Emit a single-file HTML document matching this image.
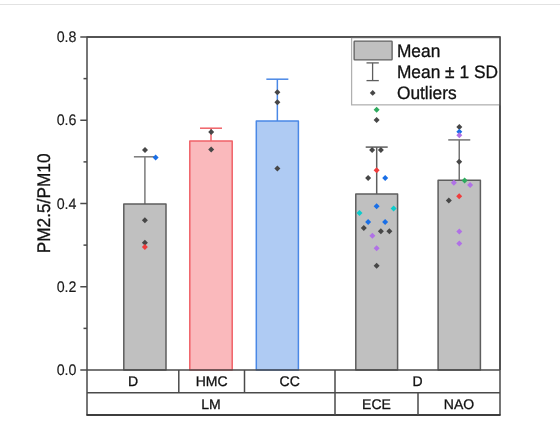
<!DOCTYPE html>
<html><head><meta charset="utf-8"><style>
html,body{margin:0;padding:0;background:#fff;width:560px;height:422px;overflow:hidden}
svg{display:block;font-family:"Liberation Sans", sans-serif;will-change:transform}
</style></head><body>
<svg width="560" height="422" viewBox="0 0 560 422" text-rendering="geometricPrecision">
<rect x="0" y="4" width="560" height="1" fill="#e2e2e2"/>
<line x1="144.90" y1="204.00" x2="144.90" y2="156.80" stroke="#7a7a7a" stroke-width="1.5"/>
<line x1="133.90" y1="156.80" x2="155.90" y2="156.80" stroke="#7a7a7a" stroke-width="1.5"/>
<rect x="123.80" y="204.00" width="42.20" height="166.00" fill="#c0c0c0" stroke="#5e5e5e" stroke-width="1.5" stroke-linejoin="round"/>
<line x1="211.00" y1="141.00" x2="211.00" y2="128.20" stroke="#f06268" stroke-width="1.5"/>
<line x1="200.00" y1="128.20" x2="222.00" y2="128.20" stroke="#f06268" stroke-width="1.5"/>
<rect x="189.80" y="141.00" width="42.40" height="229.00" fill="#fab9bc" stroke="#f06268" stroke-width="1.5" stroke-linejoin="round"/>
<line x1="277.35" y1="121.00" x2="277.35" y2="79.20" stroke="#4a88e6" stroke-width="1.5"/>
<line x1="266.35" y1="79.20" x2="288.35" y2="79.20" stroke="#4a88e6" stroke-width="1.5"/>
<rect x="256.30" y="121.00" width="42.10" height="249.00" fill="#afcbf3" stroke="#4a88e6" stroke-width="1.5" stroke-linejoin="round"/>
<line x1="376.70" y1="194.00" x2="376.70" y2="147.10" stroke="#5e5e5e" stroke-width="1.5"/>
<line x1="365.70" y1="147.10" x2="387.70" y2="147.10" stroke="#5e5e5e" stroke-width="1.5"/>
<rect x="355.80" y="194.00" width="41.80" height="176.00" fill="#c0c0c0" stroke="#5e5e5e" stroke-width="1.5" stroke-linejoin="round"/>
<line x1="459.25" y1="180.20" x2="459.25" y2="139.90" stroke="#747474" stroke-width="1.5"/>
<line x1="448.25" y1="139.90" x2="470.25" y2="139.90" stroke="#747474" stroke-width="1.5"/>
<rect x="438.10" y="180.20" width="42.30" height="189.80" fill="#c0c0c0" stroke="#5e5e5e" stroke-width="1.5" stroke-linejoin="round"/>
<path d="M145.00 147.00L148.00 150.00L145.00 153.00L142.00 150.00Z" fill="#474747"/>
<path d="M155.60 154.40L158.60 157.40L155.60 160.40L152.60 157.40Z" fill="#1a6fe6"/>
<path d="M144.90 217.20L147.90 220.20L144.90 223.20L141.90 220.20Z" fill="#474747"/>
<path d="M144.90 239.70L147.90 242.70L144.90 245.70L141.90 242.70Z" fill="#474747"/>
<path d="M144.90 244.00L147.90 247.00L144.90 250.00L141.90 247.00Z" fill="#f03c3c"/>
<path d="M211.20 129.10L214.20 132.10L211.20 135.10L208.20 132.10Z" fill="#474747"/>
<path d="M211.20 146.60L214.20 149.60L211.20 152.60L208.20 149.60Z" fill="#474747"/>
<path d="M277.40 89.30L280.40 92.30L277.40 95.30L274.40 92.30Z" fill="#474747"/>
<path d="M277.40 99.20L280.40 102.20L277.40 105.20L274.40 102.20Z" fill="#474747"/>
<path d="M277.40 165.40L280.40 168.40L277.40 171.40L274.40 168.40Z" fill="#474747"/>
<path d="M376.60 106.80L379.60 109.80L376.60 112.80L373.60 109.80Z" fill="#2eaa5e"/>
<path d="M376.60 116.90L379.60 119.90L376.60 122.90L373.60 119.90Z" fill="#474747"/>
<path d="M372.10 147.00L375.10 150.00L372.10 153.00L369.10 150.00Z" fill="#474747"/>
<path d="M380.90 147.00L383.90 150.00L380.90 153.00L377.90 150.00Z" fill="#474747"/>
<path d="M376.60 167.20L379.60 170.20L376.60 173.20L373.60 170.20Z" fill="#f03c3c"/>
<path d="M368.10 175.10L371.10 178.10L368.10 181.10L365.10 178.10Z" fill="#474747"/>
<path d="M385.20 175.10L388.20 178.10L385.20 181.10L382.20 178.10Z" fill="#1a6fe6"/>
<path d="M376.60 203.20L379.60 206.20L376.60 209.20L373.60 206.20Z" fill="#1a6fe6"/>
<path d="M393.60 205.50L396.60 208.50L393.60 211.50L390.60 208.50Z" fill="#0ccbcb"/>
<path d="M359.50 210.10L362.50 213.10L359.50 216.10L356.50 213.10Z" fill="#0ccbcb"/>
<path d="M368.10 218.90L371.10 221.90L368.10 224.90L365.10 221.90Z" fill="#1a6fe6"/>
<path d="M385.10 218.90L388.10 221.90L385.10 224.90L382.10 221.90Z" fill="#1a6fe6"/>
<path d="M363.80 224.90L366.80 227.90L363.80 230.90L360.80 227.90Z" fill="#474747"/>
<path d="M380.90 228.20L383.90 231.20L380.90 234.20L377.90 231.20Z" fill="#474747"/>
<path d="M389.40 228.20L392.40 231.20L389.40 234.20L386.40 231.20Z" fill="#474747"/>
<path d="M372.40 232.80L375.40 235.80L372.40 238.80L369.40 235.80Z" fill="#b071e6"/>
<path d="M376.60 245.30L379.60 248.30L376.60 251.30L373.60 248.30Z" fill="#b071e6"/>
<path d="M376.60 262.80L379.60 265.80L376.60 268.80L373.60 265.80Z" fill="#474747"/>
<path d="M459.30 124.10L462.30 127.10L459.30 130.10L456.30 127.10Z" fill="#474747"/>
<path d="M459.30 128.70L462.30 131.70L459.30 134.70L456.30 131.70Z" fill="#1a6fe6"/>
<path d="M459.30 132.30L462.30 135.30L459.30 138.30L456.30 135.30Z" fill="#b071e6"/>
<path d="M459.20 158.70L462.20 161.70L459.20 164.70L456.20 161.70Z" fill="#474747"/>
<path d="M464.60 177.60L467.60 180.60L464.60 183.60L461.60 180.60Z" fill="#2eaa5e"/>
<path d="M453.90 179.70L456.90 182.70L453.90 185.70L450.90 182.70Z" fill="#b071e6"/>
<path d="M470.10 181.90L473.10 184.90L470.10 187.90L467.10 184.90Z" fill="#b071e6"/>
<path d="M459.20 193.20L462.20 196.20L459.20 199.20L456.20 196.20Z" fill="#f03c3c"/>
<path d="M448.80 197.50L451.80 200.50L448.80 203.50L445.80 200.50Z" fill="#474747"/>
<path d="M459.30 228.40L462.30 231.40L459.30 234.40L456.30 231.40Z" fill="#b071e6"/>
<path d="M459.30 240.50L462.30 243.50L459.30 246.50L456.30 243.50Z" fill="#b071e6"/>
<path d="M87.0 37.0H500.0V415.1H87.0Z" fill="none" stroke="#4a4a4a" stroke-width="1.5" stroke-linejoin="round"/>
<line x1="87.0" y1="415.1" x2="500.0" y2="415.1" stroke="#2e2e2e" stroke-width="1.5" stroke-linecap="round"/>
<line x1="87.0" y1="370.0" x2="500.0" y2="370.0" stroke="#4a4a4a" stroke-width="1.5"/>
<line x1="87.0" y1="392.8" x2="500.0" y2="392.8" stroke="#4a4a4a" stroke-width="1.5"/>
<line x1="178.8" y1="370.0" x2="178.8" y2="392.8" stroke="#4a4a4a" stroke-width="1.5"/>
<line x1="244.5" y1="370.0" x2="244.5" y2="392.8" stroke="#4a4a4a" stroke-width="1.5"/>
<line x1="335.0" y1="370.0" x2="335.0" y2="392.8" stroke="#4a4a4a" stroke-width="1.5"/>
<line x1="335.0" y1="392.8" x2="335.0" y2="415.1" stroke="#4a4a4a" stroke-width="1.5"/>
<line x1="418.0" y1="392.8" x2="418.0" y2="415.1" stroke="#4a4a4a" stroke-width="1.5"/>
<line x1="80.30" y1="370.00" x2="87.0" y2="370.00" stroke="#4a4a4a" stroke-width="1.5"/>
<text transform="translate(76.5 375.00) scale(0.95 1.02)" text-anchor="end" font-size="15" fill="#1a1a1a" stroke="#1a1a1a" stroke-width="0.15">0.0</text>
<line x1="83.50" y1="328.38" x2="87.0" y2="328.38" stroke="#4a4a4a" stroke-width="1.5"/>
<line x1="80.30" y1="286.75" x2="87.0" y2="286.75" stroke="#4a4a4a" stroke-width="1.5"/>
<text transform="translate(76.5 291.75) scale(0.95 1.02)" text-anchor="end" font-size="15" fill="#1a1a1a" stroke="#1a1a1a" stroke-width="0.15">0.2</text>
<line x1="83.50" y1="245.12" x2="87.0" y2="245.12" stroke="#4a4a4a" stroke-width="1.5"/>
<line x1="80.30" y1="203.50" x2="87.0" y2="203.50" stroke="#4a4a4a" stroke-width="1.5"/>
<text transform="translate(76.5 208.50) scale(0.95 1.02)" text-anchor="end" font-size="15" fill="#1a1a1a" stroke="#1a1a1a" stroke-width="0.15">0.4</text>
<line x1="83.50" y1="161.88" x2="87.0" y2="161.88" stroke="#4a4a4a" stroke-width="1.5"/>
<line x1="80.30" y1="120.25" x2="87.0" y2="120.25" stroke="#4a4a4a" stroke-width="1.5"/>
<text transform="translate(76.5 125.25) scale(0.95 1.02)" text-anchor="end" font-size="15" fill="#1a1a1a" stroke="#1a1a1a" stroke-width="0.15">0.6</text>
<line x1="83.50" y1="78.62" x2="87.0" y2="78.62" stroke="#4a4a4a" stroke-width="1.5"/>
<line x1="80.30" y1="37.00" x2="87.0" y2="37.00" stroke="#4a4a4a" stroke-width="1.5"/>
<text transform="translate(76.5 42.00) scale(0.95 1.02)" text-anchor="end" font-size="15" fill="#1a1a1a" stroke="#1a1a1a" stroke-width="0.15">0.8</text>
<text transform="translate(49.5 203.4) rotate(-90) scale(1.015 1.07)" text-anchor="middle" font-size="17" fill="#111" stroke="#111" stroke-width="0.3">PM2.5/PM10</text>
<text x="133.0" y="386" text-anchor="middle" font-size="14" fill="#111" stroke="#111" stroke-width="0.3">D</text>
<text x="211.6" y="386" text-anchor="middle" font-size="14" fill="#111" stroke="#111" stroke-width="0.3">HMC</text>
<text x="289.7" y="386" text-anchor="middle" font-size="14" fill="#111" stroke="#111" stroke-width="0.3">CC</text>
<text x="417.5" y="386" text-anchor="middle" font-size="14" fill="#111" stroke="#111" stroke-width="0.3">D</text>
<text x="211.0" y="408.5" text-anchor="middle" font-size="14" fill="#111" stroke="#111" stroke-width="0.3">LM</text>
<text x="376.5" y="408.5" text-anchor="middle" font-size="14" fill="#111" stroke="#111" stroke-width="0.3">ECE</text>
<text x="459.0" y="408.5" text-anchor="middle" font-size="14" fill="#111" stroke="#111" stroke-width="0.3">NAO</text>
<rect x="351.6" y="37.75" width="148.75" height="67.1" fill="#ffffff" stroke="#b0b0b0" stroke-width="1.25"/>
<path d="M87.0 37.0H500.0V370.0" fill="none" stroke="#4a4a4a" stroke-width="1.6" stroke-linejoin="round"/>
<rect x="354.1" y="41.2" width="38" height="18.6" rx="0.6" fill="#c0c0c0" stroke="#5e5e5e" stroke-width="1.3"/>
<line x1="372.6" y1="62.9" x2="372.6" y2="80.6" stroke="#5e5e5e" stroke-width="1.3"/>
<line x1="366.5" y1="62.9" x2="378.8" y2="62.9" stroke="#5e5e5e" stroke-width="1.3"/>
<line x1="366.5" y1="80.6" x2="378.8" y2="80.6" stroke="#5e5e5e" stroke-width="1.3"/>
<path d="M372.7 90L375.6 92.9L372.7 95.8L369.8 92.9Z" fill="#474747"/>
<text transform="translate(396.9 56.8) scale(1.02 1.06)" font-size="17" fill="#111" stroke="#111" stroke-width="0.3">Mean</text>
<text transform="translate(396.9 78.1) scale(1.02 1.06)" font-size="17" fill="#111" stroke="#111" stroke-width="0.3">Mean ± 1 SD</text>
<text transform="translate(396.9 98.6) scale(1.02 1.06)" font-size="17" fill="#111" stroke="#111" stroke-width="0.3">Outliers</text>
</svg>
</body></html>
